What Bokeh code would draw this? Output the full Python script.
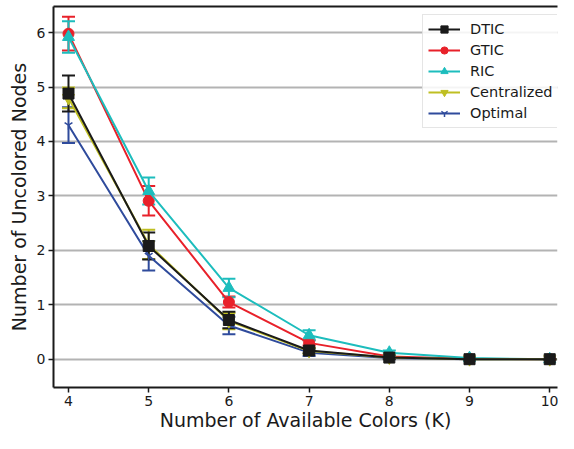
from bokeh.plotting import figure
from bokeh.models import (ColumnDataSource, Whisker, TeeHead, Legend, LegendItem,
                          LinearAxis, FixedTicker, Range1d)
from bokeh.embed import file_html
from bokeh.resources import INLINE

k_values = [4, 5, 6, 7, 8, 9, 10]
x_ticks = [4, 5, 6, 7, 8, 9, 10]
y_ticks = [0, 1, 2, 3, 4, 5, 6]

series_names = ["DTIC", "GTIC", "RIC", "Centralized", "Optimal"]
dtic = [4.88, 2.08, 0.72, 0.16, 0.03, 0.0, 0.0]
dtic_err = [0.33, 0.25, 0.15, 0.05, 0.02, 0.01, 0.0]
gtic = [5.98, 2.91, 1.05, 0.30, 0.05, 0.01, 0.0]
gtic_err = [0.31, 0.27, 0.10, 0.05, 0.02, 0.01, 0.0]
ric = [5.92, 3.09, 1.31, 0.44, 0.12, 0.02, 0.0]
ric_err = [0.29, 0.25, 0.17, 0.09, 0.04, 0.01, 0.0]
centralized = [4.80, 2.11, 0.70, 0.15, 0.03, 0.0, 0.0]
centralized_err = [0.19, 0.27, 0.15, 0.05, 0.02, 0.01, 0.0]
optimal = [4.30, 1.90, 0.62, 0.12, 0.02, 0.0, 0.0]
optimal_err = [0.33, 0.27, 0.16, 0.06, 0.02, 0.01, 0.0]

FONT = "DejaVu Sans"

p = figure(width=558, height=433, output_backend="svg", toolbar_location=None,
           x_range=Range1d(3.813, 10.097), y_range=Range1d(-0.52, 6.48),
           min_border_top=6, min_border_right=1, min_border_left=53, min_border_bottom=0)
p.outline_line_color = None
p.background_fill_color = "white"

p.xgrid.grid_line_color = None
p.ygrid.grid_line_color = "#b3b3b3"
p.ygrid.grid_line_width = 2
p.ygrid.ticker = FixedTicker(ticks=y_ticks)

for ax in (p.xaxis[0], p.yaxis[0]):
    ax.axis_line_color = "#1a1a1a"
    ax.axis_line_width = 2
    ax.major_tick_line_color = "#1a1a1a"
    ax.major_tick_line_width = 1.5
    ax.major_tick_out = 5
    ax.major_tick_in = 0
    ax.minor_tick_line_color = None
    ax.major_label_text_font = FONT
    ax.major_label_text_font_size = "14px"
    ax.major_label_text_color = "#1a1a1a"
    ax.axis_label_text_font = FONT
    ax.axis_label_text_font_size = "19px"
    ax.axis_label_text_font_style = "normal"
    ax.axis_label_text_color = "#1a1a1a"
    ax.major_label_standoff = 3
    ax.axis_label_standoff = 0

p.xaxis[0].ticker = FixedTicker(ticks=x_ticks)
p.yaxis[0].ticker = FixedTicker(ticks=y_ticks)
p.xaxis[0].axis_label = "Number of Available Colors (K)"
p.yaxis[0].axis_label = "Number of Uncolored Nodes"
p.yaxis[0].axis_label_standoff = 4

top = LinearAxis(ticker=FixedTicker(ticks=[]), axis_line_color="#1a1a1a", axis_line_width=2,
                 major_tick_line_color=None, minor_tick_line_color=None,
                 major_label_standoff=0)
p.add_layout(top, "above")

colors = {"DTIC": "#1a1a1a", "GTIC": "#e8212a", "RIC": "#1dbdbd",
          "Centralized": "#bfbf22", "Optimal": "#2f4b9c"}
data = {"DTIC": (dtic, dtic_err), "GTIC": (gtic, gtic_err), "RIC": (ric, ric_err),
        "Centralized": (centralized, centralized_err), "Optimal": (optimal, optimal_err)}
markers = {"DTIC": ("square", 11), "GTIC": ("circle", 11), "RIC": ("triangle", 12),
           "Centralized": ("inverted_triangle", 12), "Optimal": ("y", 9)}

renderers = {}
for name in ["GTIC", "RIC", "Optimal", "Centralized", "DTIC"]:
    vals, errs = data[name]
    c = colors[name]
    src = ColumnDataSource(dict(x=k_values, y=vals,
                                lo=[v - e for v, e in zip(vals, errs)],
                                hi=[v + e for v, e in zip(vals, errs)]))
    w = Whisker(source=src, base="x", lower="lo", upper="hi",
                line_color=c, line_width=2,
                lower_head=TeeHead(size=13, line_color=c, line_width=2),
                upper_head=TeeHead(size=13, line_color=c, line_width=2))
    p.add_layout(w)
    ln = p.line("x", "y", source=src, line_color=c, line_width=2)
    mk, sz = markers[name]
    sc = p.scatter("x", "y", source=src, marker=mk, size=sz, fill_color=c,
                   line_color=c, line_width=1.5 if mk == "y" else 1)
    renderers[name] = [ln, sc]

items = [LegendItem(label=n, renderers=renderers[n]) for n in series_names]
legend = Legend(items=items, location=(369, 259),
                label_text_font=FONT, label_text_font_size="14.5px",
                label_text_color="#1a1a1a",
                border_line_color="#cccccc", border_line_width=1,
                background_fill_color="white", background_fill_alpha=0.85,
                glyph_width=32, glyph_height=18, spacing=3,
                padding=5, margin=0, label_standoff=10)
p.add_layout(legend)

open("out.html", "w").write(file_html(p, INLINE))
